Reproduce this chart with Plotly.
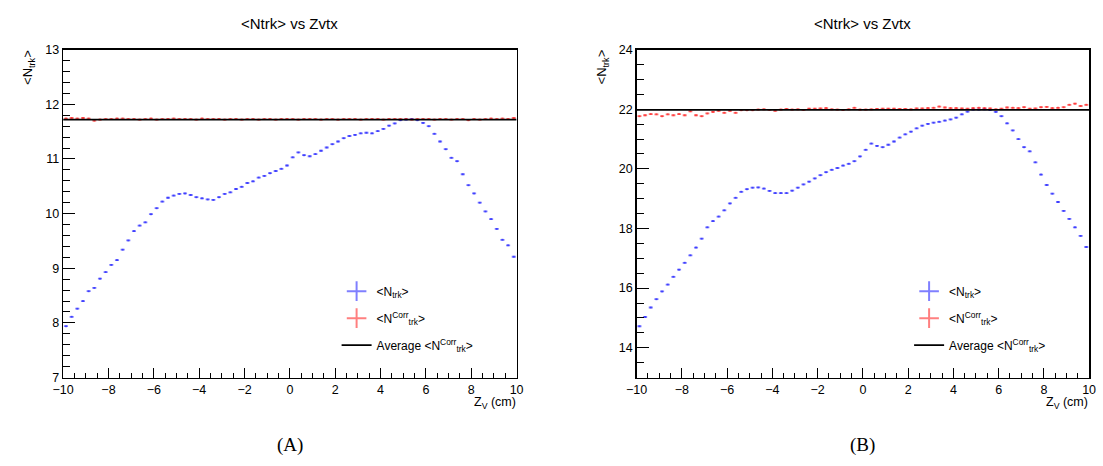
import plotly.graph_objects as go
import numpy as np

# ---------------- data ----------------
bin_edges = np.linspace(-10, 10, 81)
zv = (bin_edges[:-1] + bin_edges[1:]) / 2  # 80 bins, width 0.25 cm

ntrk_A = [7.94, 8.11, 8.26, 8.40, 8.58, 8.64, 8.81, 8.93, 9.06, 9.15,
          9.34, 9.51, 9.68, 9.78, 9.84, 9.99, 10.10, 10.22, 10.29, 10.33,
          10.36, 10.37, 10.34, 10.30, 10.28, 10.26, 10.25, 10.30, 10.36, 10.39,
          10.45, 10.49, 10.56, 10.59, 10.66, 10.69, 10.74, 10.78, 10.82, 10.88,
          11.03, 11.12, 11.07, 11.05, 11.09, 11.15, 11.21, 11.27, 11.32, 11.38,
          11.42, 11.44, 11.47, 11.48, 11.47, 11.51, 11.55, 11.61, 11.65, 11.71,
          11.72, 11.73, 11.71, 11.66, 11.60, 11.46, 11.32, 11.18, 11.02, 10.96,
          10.72, 10.52, 10.37, 10.20, 10.04, 9.90, 9.72, 9.52, 9.42, 9.21]

corr_A = [11.74, 11.75, 11.74, 11.75, 11.74, 11.70, 11.72, 11.73, 11.73, 11.74,
          11.74, 11.73, 11.73, 11.72, 11.73, 11.74, 11.72, 11.73, 11.73, 11.74,
          11.73, 11.73, 11.73, 11.72, 11.74, 11.73, 11.73, 11.73, 11.72, 11.73,
          11.73, 11.72, 11.73, 11.73, 11.72, 11.73, 11.73, 11.72, 11.73, 11.73,
          11.73, 11.72, 11.73, 11.73, 11.73, 11.72, 11.73, 11.73, 11.72, 11.73,
          11.73, 11.73, 11.72, 11.73, 11.73, 11.73, 11.72, 11.73, 11.73, 11.73,
          11.73, 11.72, 11.73, 11.73, 11.73, 11.72, 11.73, 11.73, 11.72, 11.73,
          11.73, 11.71, 11.73, 11.72, 11.73, 11.74, 11.73, 11.74, 11.73, 11.75]

avg_A = 11.72

ntrk_B = [14.72, 15.03, 15.35, 15.63, 15.89, 16.12, 16.38, 16.62, 16.85, 17.10,
          17.36, 17.66, 18.04, 18.25, 18.40, 18.61, 18.84, 19.03, 19.23, 19.32,
          19.37, 19.38, 19.34, 19.26, 19.19, 19.19, 19.19, 19.27, 19.37, 19.48,
          19.57, 19.68, 19.79, 19.89, 19.97, 20.03, 20.11, 20.17, 20.26, 20.42,
          20.64, 20.85, 20.77, 20.73, 20.81, 20.92, 21.05, 21.16, 21.25, 21.36,
          21.45, 21.51, 21.55, 21.58, 21.62, 21.66, 21.72, 21.83, 21.92, 21.99,
          21.99, 22.00, 21.98, 21.91, 21.77, 21.53, 21.29, 21.00, 20.73, 20.59,
          20.22, 19.81, 19.46, 19.17, 18.89, 18.59, 18.32, 18.04, 17.75, 17.38]

corr_B = [21.77, 21.80, 21.84, 21.83, 21.77, 21.83, 21.80, 21.84, 21.80, 21.93,
          21.80, 21.77, 21.86, 21.91, 21.95, 21.88, 21.95, 21.88, 21.97, 21.97,
          21.97, 21.99, 22.00, 21.98, 21.95, 21.99, 22.01, 21.99, 22.00, 21.98,
          22.02, 22.02, 22.03, 22.04, 22.00, 21.99, 21.98, 22.00, 22.05, 21.99,
          21.99, 22.00, 22.01, 22.02, 22.02, 22.02, 22.01, 22.01, 22.00, 22.03,
          22.03, 22.04, 22.05, 22.09, 22.06, 22.04, 22.04, 22.03, 22.02, 22.04,
          22.05, 22.04, 22.03, 22.00, 22.02, 22.06, 22.05, 22.04, 22.07, 22.02,
          22.03, 22.07, 22.08, 22.04, 22.05, 22.07, 22.15, 22.19, 22.11, 22.15]

avg_B = 21.98

x_range = [-10, 10]
y_range_A = [7, 13]
y_range_B = [13, 24]

title_text = "&lt;Ntrk&gt; vs Zvtx"
lbl_ntrk = "&lt;N<sub>trk</sub>&gt;"
lbl_corr = "&lt;N<sup>Corr</sup><sub>trk</sub>&gt;"
lbl_avg = "Average &lt;N<sup>Corr</sup><sub>trk</sub>&gt;"

# ---------------- figure ----------------
W, H = 1103, 466


def px(x):
    return x / W


def py(y):
    return 1 - y / H


FONT = "Liberation Sans, Arial, Helvetica, sans-serif"
BLUE_T = "rgba(0,0,255,0.5)"
RED_T = "rgba(255,0,0,0.5)"

fig = go.Figure()

half = 0.09
panels = [
    ("x", "y", "legend", ntrk_A, corr_A, avg_A),
    ("x2", "y2", "legend2", ntrk_B, corr_B, avg_B),
]

for xa, ya, lg, blue, red, avg in panels:
    for vals, col_t in [(blue, BLUE_T), (red, RED_T)]:
        fig.add_trace(go.Scatter(
            x=zv, y=vals, xaxis=xa, yaxis=ya, mode="markers",
            marker=dict(symbol="square", size=2, color=col_t),
            error_x=dict(type="constant", value=half, thickness=1.8, width=0, color=col_t),
            showlegend=False, hoverinfo="skip"))
    # average line
    fig.add_trace(go.Scatter(
        x=x_range, y=[avg, avg], xaxis=xa, yaxis=ya, mode="lines",
        line=dict(color="black", width=1.6), showlegend=False, hoverinfo="skip"))
    # legend proxies
    fig.add_trace(go.Scatter(x=[None], y=[None], xaxis=xa, yaxis=ya, mode="markers",
                             marker=dict(symbol="cross-thin", size=14, line=dict(color=BLUE_T, width=2)),
                             name=lbl_ntrk, legend=lg, legendgroup=lg + "a"))
    fig.add_trace(go.Scatter(x=[None], y=[None], xaxis=xa, yaxis=ya, mode="markers",
                             marker=dict(symbol="cross-thin", size=14, line=dict(color=RED_T, width=2)),
                             name=lbl_corr, legend=lg, legendgroup=lg + "b"))
    fig.add_trace(go.Scatter(x=[None], y=[None], xaxis=xa, yaxis=ya, mode="lines",
                             line=dict(color="black", width=1.6),
                             name=lbl_avg, legend=lg, legendgroup=lg + "c"))

xdomA = [px(53), px(514)]
xdomB = [px(636), px(1096)]
ydom = [py(382), py(44)]


def xaxis_cfg(dom, anchor):
    return dict(domain=dom, anchor=anchor, range=x_range, dtick=2, tick0=0,
                ticks="inside", ticklen=10, tickwidth=1, tickcolor="black",
                minor=dict(dtick=0.5, ticks="inside", ticklen=5, tickwidth=1, tickcolor="black"),
                showline=True, linecolor="black", linewidth=1.5, mirror=True,
                showgrid=False, zeroline=False,
                tickfont=dict(family=FONT, size=12.5, color="black"))


def yaxis_cfg(rng, dtick, mdtick, tick0, anchor):
    return dict(domain=ydom, anchor=anchor, range=rng, dtick=dtick, tick0=tick0,
                ticks="inside", ticklen=12, tickwidth=1, tickcolor="black",
                minor=dict(dtick=mdtick, tick0=tick0, ticks="inside", ticklen=7, tickwidth=1, tickcolor="black"),
                showline=True, linecolor="black", linewidth=1.5, mirror=True,
                showgrid=False, zeroline=False,
                tickfont=dict(family=FONT, size=12.5, color="black"))


legend_common = dict(bgcolor="rgba(0,0,0,0)", borderwidth=0, tracegroupgap=8,
                     font=dict(family=FONT, size=12, color="black"),
                     xanchor="left", yanchor="top", itemclick=False)

fig.update_layout(
    width=W, height=H,
    margin=dict(l=0, r=0, t=0, b=0),
    paper_bgcolor="white", plot_bgcolor="white",
    xaxis=xaxis_cfg(xdomA, "y"),
    yaxis=yaxis_cfg(y_range_A, 1, 0.2, 7, "x"),
    xaxis2=xaxis_cfg(xdomB, "y2"),
    yaxis2=yaxis_cfg(y_range_B, 2, 0.5, 14, "x2"),
    legend=dict(x=px(331), y=py(278), **legend_common),
    legend2=dict(x=px(913), y=py(278), **legend_common),
)

annots = []
for x0, x1, letter in [(53, 514, "(A)"), (636, 1096, "(B)")]:
    cx = px((x0 + x1) / 2)
    annots.append(dict(text=title_text, x=cx, y=py(17), xref="paper", yref="paper",
                       xanchor="center", yanchor="middle", showarrow=False,
                       font=dict(family=FONT, size=15, color="black")))
    annots.append(dict(text=letter, x=cx, y=py(452), xref="paper", yref="paper",
                       xanchor="center", yanchor="middle", showarrow=False,
                       font=dict(family="Liberation Serif, DejaVu Serif, serif", size=19, color="black")))
    annots.append(dict(text="Z<sub>V</sub> (cm)", x=px(x1 + 1), y=py(408), xref="paper", yref="paper",
                       xanchor="right", yanchor="middle", showarrow=False,
                       font=dict(family=FONT, size=12.5, color="black")))
    annots.append(dict(text=lbl_ntrk, x=px(x0 - 35), y=py(42), xref="paper", yref="paper",
                       xanchor="center", yanchor="top", textangle=-90, showarrow=False,
                       font=dict(family=FONT, size=13, color="black")))
fig.update_layout(annotations=annots)

# remove the default page margin so the figure sits at the window origin
fig.write_html("out.html",
               config={"displayModeBar": False, "staticPlot": True},
               post_script="document.body.style.margin='0';document.documentElement.style.overflow='hidden';")
